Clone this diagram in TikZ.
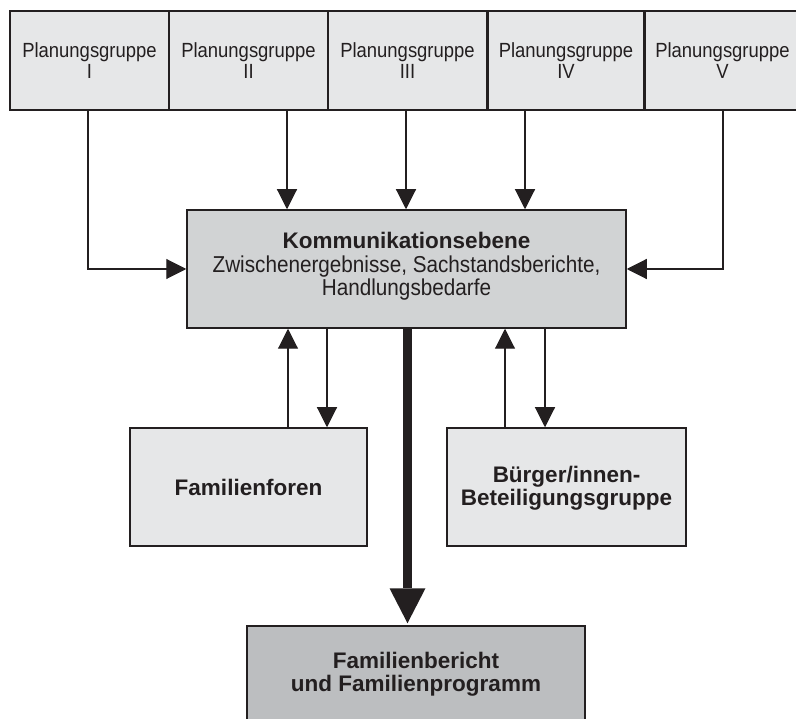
\documentclass[tikz,border=0pt]{standalone}
\usepackage{fontspec}
\setmainfont{Liberation Sans}
\newfontfamily\lightf[FakeStretch=0.9]{Liberation Sans}
\usetikzlibrary{arrows.meta}
\definecolor{ink}{HTML}{231F20}
\definecolor{boxlight}{HTML}{E6E7E8}
\definecolor{boxmid}{HTML}{D1D3D4}
\definecolor{boxdark}{HTML}{BCBEC0}
\begin{document}
\begin{tikzpicture}[x=1pt,y=-1pt,
  box/.style={draw=ink, line width=1.5pt, inner sep=0pt},
  pg/.style={box, fill=boxlight, minimum width=159pt, minimum height=99pt,
    align=center, text=ink, font=\lightf\fontsize{20.5}{20.5}\selectfont},
  side/.style={box, fill=boxlight, minimum width=238pt, minimum height=118pt},
  boldtext/.style={align=center, text=ink, inner sep=0pt,
    font=\bfseries\fontsize{22.5}{23}\selectfont},
  conn/.style={draw=ink, line width=1.1pt, -{Triangle[width=20pt,length=20pt]}},
]
\useasboundingbox[fill=white] (0,0) rectangle (796,719);

% top row
\node[pg] (g1) at (89.5,60.5) {Planungsgruppe\\I};
\node[pg] (g2) at (248.5,60.5) {Planungsgruppe\\II};
\node[pg] (g3) at (407.5,60.5) {Planungsgruppe\\III};
\node[pg, minimum width=155pt] (g4) at (566,60.5) {Planungsgruppe\\IV};
\node[pg, minimum width=155pt] (g5) at (722.5,60.5) {Planungsgruppe\\V};

% central box
\node[box, fill=boxmid, minimum width=439pt, minimum height=118pt] (cbox) at (406.5,269) {};
\node[align=center, text=ink, inner sep=0pt, font=\lightf\fontsize{23}{22.5}\selectfont] (ctext) at (406.5,266)
  {{\normalfont\bfseries\fontsize{22.5}{22.5}\selectfont Kommunikationsebene}\\[2pt]
   Zwischenergebnisse, Sachstandsberichte,\\ Handlungsbedarfe};

% side boxes
\node[side, minimum width=237pt] (ff) at (248.5,487) {};
\node[boldtext] (fftext) at (248.5,487) {Familienforen};
\node[side, minimum width=239pt] (bg) at (566.5,487) {};
\node[boldtext] (bgtext) at (566.5,488) {Bürger/innen-\\Beteiligungsgruppe};

% bottom box
\node[box, fill=boxdark, minimum width=338pt, minimum height=104pt] (fb) at (416,678) {};
\node[boldtext] (fbtext) at (416,674)
  {Familienbericht\\und Familienprogramm};

% connectors from planning groups
\draw[conn] (88,0 |- g1.south) |- (cbox.west);
\draw[conn] (287,0 |- g2.south) -- (287,0 |- cbox.north);
\draw[conn] (406,0 |- g3.south) -- (406,0 |- cbox.north);
\draw[conn] (525,0 |- g4.south) -- (525,0 |- cbox.north);
\draw[conn] (723,0 |- g5.south) |- (cbox.east);

% side box exchanges
\draw[conn] (288,0 |- ff.north) -- (288,0 |- cbox.south);
\draw[conn] (327,0 |- cbox.south) -- (327,0 |- ff.north);
\draw[conn] (505,0 |- bg.north) -- (505,0 |- cbox.south);
\draw[conn] (545,0 |- cbox.south) -- (545,0 |- bg.north);

% main thick arrow
\draw[draw=ink, line width=9pt, shorten >=2pt,
  -{Triangle[width=36pt,length=35pt,line width=0pt]}]
  (407.5,0 |- cbox.south) -- (407.5,0 |- fb.north);
\end{tikzpicture}
\end{document}
